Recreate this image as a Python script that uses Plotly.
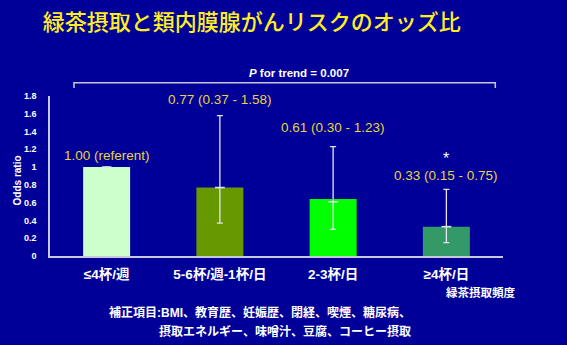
import plotly.graph_objects as go

# ---- data ----
categories = ["≤4杯/週", "5-6杯/週-1杯/日", "2-3杯/日", "≥4杯/日"]
bar_heights = [1.00, 0.77, 0.64, 0.33]
odds_ratio = [1.00, 0.77, 0.61, 0.33]
ci_low = [1.00, 0.37, 0.30, 0.15]
ci_high = [1.00, 1.58, 1.23, 0.75]
value_labels = ["1.00 (referent)", "0.77 (0.37 - 1.58)", "0.61 (0.30 - 1.23)", "0.33 (0.15 - 0.75)"]
y_ticks = [0, 0.2, 0.4, 0.6, 0.8, 1.0, 1.2, 1.4, 1.6, 1.8]
y_ticktext = ["0", "0.2", "0.4", "0.6", "0.8", "1", "1.2", "1.4", "1.6", "1.8"]
title_text = "緑茶摂取と類内膜腺がんリスクのオッズ比"
trend_text = "<i>P</i> for trend = 0.007"
xaxis_text = "緑茶摂取頻度"
note_lines = ["補正項目:BMI、教育歴、妊娠歴、閉経、喫煙、糖尿病、",
              "摂取エネルギー、味噌汁、豆腐、コーヒー摂取"]
significant = [False, False, False, True]

# ---- style ----
BG = "#000099"
bar_colors = ["#ccffcc", "#669900", "#00ff00", "#339966"]
ERR = "#e4e4ec"
AXIS = "#c8c8dc"
YELLOW = "#e8d43c"
FONT = "Arial, Liberation Sans, Noto Sans CJK JP, sans-serif"
CJK = "Noto Sans CJK JP, sans-serif"
label_shift = [12, 16, 19, 14]

err_plus = [h - b for h, b in zip(ci_high, bar_heights)]
err_minus = [b - l for b, l in zip(bar_heights, ci_low)]

fig = go.Figure()
fig.add_trace(go.Bar(
    x=categories, y=bar_heights,
    marker=dict(color=bar_colors, line=dict(width=0)),
    error_y=dict(type="data", array=err_plus, arrayminus=err_minus,
                 color=ERR, thickness=1.3, width=3, visible=True),
    hoverinfo="skip", showlegend=False,
))
fig.add_trace(go.Scatter(
    x=categories, y=odds_ratio, mode="markers",
    marker=dict(symbol="line-ew", size=7, line=dict(color=ERR, width=1.6)),
    hoverinfo="skip", showlegend=False, cliponaxis=False,
))

annotations = []
for cat, lab, hi, sh, sig in zip(categories, value_labels, ci_high, label_shift, significant):
    annotations.append(dict(x=cat, y=hi, xref="x", yref="y", text=lab, showarrow=False,
                            yanchor="middle", yshift=sh,
                            font=dict(family=FONT, size=13.5, color=YELLOW)))
    if sig:
        annotations.append(dict(x=cat, y=hi, xref="x", yref="y", text="*", showarrow=False,
                                yanchor="middle", yshift=31,
                                font=dict(family=FONT, size=16, color="white")))

annotations += [
    dict(x=0.549, y=1.142, xref="paper", yref="paper", text="<b>" + trend_text + "</b>",
         showarrow=False, font=dict(family=FONT, size=11.5, color="white"), yanchor="middle"),
    dict(x=-0.088, y=0.47, xref="paper", yref="paper", text="<b>Odds ratio</b>", showarrow=False,
         textangle=-90, font=dict(family=FONT, size=10, color="white")),
    dict(x=1.031, y=-0.222, xref="paper", yref="paper", text="<b>" + xaxis_text + "</b>",
         showarrow=False, xanchor="right", yanchor="middle",
         font=dict(family=CJK, size=11.5, color="white")),
    dict(x=0.801, y=-0.35, xref="paper", yref="paper", text="<b>" + note_lines[0] + "</b>",
         showarrow=False, xanchor="right", yanchor="middle",
         font=dict(family=FONT, size=12, color="white")),
    dict(x=0.801, y=-0.469, xref="paper", yref="paper", text="<b>" + note_lines[1] + "</b>",
         showarrow=False, xanchor="right", yanchor="middle",
         font=dict(family=FONT, size=12, color="white")),
]

shapes = [
    dict(type="path", xref="paper", yref="paper",
         path="M 0.053 1.05 L 0.053 1.083 L 0.983 1.083 L 0.983 1.05",
         line=dict(color=AXIS, width=1.5)),
]

fig.update_layout(
    width=567, height=345,
    margin=dict(l=50, r=64, t=96, b=89),
    paper_bgcolor=BG, plot_bgcolor=BG,
    bargap=0.585,
    title=dict(text=title_text, x=0.444, y=0.934, xref="container",
               yref="container", xanchor="center", yanchor="middle",
               font=dict(family=CJK, size=22, color="#ffee22", weight=500)),
    xaxis=dict(showgrid=False, zeroline=False, showline=True, linecolor=AXIS, linewidth=1.5,
               ticks="outside", ticklen=5, tickcolor="rgba(0,0,0,0)",
               tickfont=dict(family=FONT, size=13.5, color="white"),
               tickvals=categories, ticktext=["<b>" + c + "</b>" for c in categories]),
    yaxis=dict(range=[0, 1.8], showgrid=False, zeroline=False, showline=True, linecolor=AXIS,
               linewidth=1.5, tickvals=y_ticks, ticktext=["<b>" + t + "</b>" for t in y_ticktext],
               ticks="outside", ticklen=10, tickcolor="rgba(0,0,0,0)",
               tickfont=dict(family=FONT, size=9, color="white")),
    annotations=annotations,
    shapes=shapes,
)

fig.write_html("out.html")
